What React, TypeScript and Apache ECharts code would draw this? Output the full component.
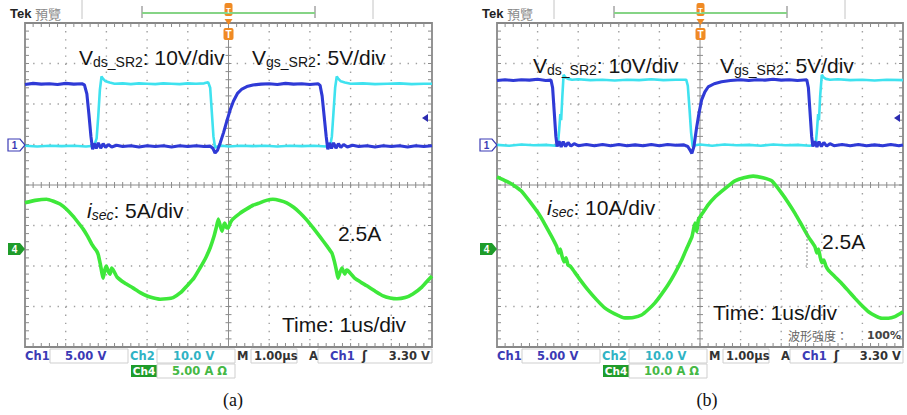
import React, { useEffect, useRef } from "react";
import * as echarts from "echarts";

// ---- data: time in µs (1 µs/div), value in screen divisions (centre line = 0) ----
const vdsA: number[][] = [[0,2.48],[0.2,2.51],[0.4,2.49],[0.6,2.5],[0.8,2.48],[1.0,2.51],[1.2,2.49],[1.4,2.5],[1.46,2.47],[1.52,2.25],[1.57,1.75],[1.62,1.2],[1.66,0.88],[1.7,1.03],[1.75,0.9],[1.8,1.04],[1.86,0.91],[1.92,1.02],[1.98,0.93],[2.05,1.0],[2.13,0.94],[2.25,0.98],[2.4,0.95],[2.6,0.97],[2.8,0.94],[3.0,0.97],[3.2,0.95],[3.4,0.97],[3.6,0.94],[3.8,0.97],[4.0,0.95],[4.2,0.97],[4.4,0.95],[4.55,0.96],[4.62,0.9],[4.67,0.79],[4.73,0.86],[4.8,1.05],[4.88,1.3],[4.96,1.58],[5.04,1.85],[5.12,2.07],[5.22,2.26],[5.33,2.37],[5.45,2.43],[5.6,2.47],[5.8,2.49],[6.0,2.5],[6.2,2.48],[6.4,2.51],[6.6,2.49],[6.8,2.5],[7.0,2.48],[7.2,2.5],[7.25,2.46],[7.3,2.2],[7.35,1.7],[7.4,1.2],[7.44,0.88],[7.48,1.04],[7.53,0.9],[7.58,1.04],[7.64,0.91],[7.7,1.02],[7.76,0.93],[7.83,1.0],[7.92,0.94],[8.05,0.98],[8.2,0.95],[8.4,0.97],[8.6,0.94],[8.8,0.97],[9.0,0.95],[9.2,0.97],[9.4,0.94],[9.6,0.97],[9.8,0.95],[10,0.97]];
const vgsA: number[][] = [[0,0.97],[0.3,0.95],[0.6,0.97],[0.9,0.96],[1.2,0.97],[1.5,0.95],[1.7,0.97],[1.76,1.15],[1.8,1.7],[1.84,2.35],[1.88,2.68],[1.92,2.62],[1.98,2.56],[2.08,2.53],[2.2,2.5],[2.4,2.51],[2.6,2.49],[2.8,2.51],[3.0,2.5],[3.2,2.49],[3.4,2.51],[3.6,2.5],[3.8,2.49],[4.0,2.51],[4.2,2.5],[4.4,2.51],[4.5,2.54],[4.55,2.4],[4.59,1.8],[4.63,1.2],[4.67,0.92],[4.72,0.95],[4.85,0.97],[5.0,0.95],[5.3,0.97],[5.6,0.96],[5.9,0.97],[6.2,0.95],[6.5,0.97],[6.8,0.96],[7.1,0.97],[7.4,0.95],[7.5,0.98],[7.54,1.2],[7.58,1.8],[7.62,2.4],[7.66,2.68],[7.7,2.62],[7.76,2.56],[7.86,2.53],[8.0,2.5],[8.3,2.51],[8.6,2.49],[8.9,2.5],[9.2,2.51],[9.5,2.49],[9.8,2.5],[10,2.5]];
const isecA: number[][] = [[0,-0.44],[0.25,-0.38],[0.53,-0.35],[0.7,-0.4],[0.86,-0.47],[1.02,-0.6],[1.18,-0.77],[1.3,-0.92],[1.43,-1.09],[1.54,-1.27],[1.64,-1.46],[1.7,-1.55],[1.76,-1.63],[1.8,-1.72],[1.85,-1.95],[1.92,-2.3],[1.96,-2.1],[2.0,-2.0],[2.05,-2.15],[2.09,-2.2],[2.13,-2.05],[2.18,-2.12],[2.26,-2.27],[2.45,-2.42],[2.65,-2.54],[2.82,-2.65],[3.0,-2.74],[3.16,-2.79],[3.32,-2.82],[3.48,-2.81],[3.64,-2.78],[3.82,-2.66],[3.98,-2.49],[4.15,-2.3],[4.3,-2.05],[4.43,-1.82],[4.55,-1.55],[4.64,-1.28],[4.7,-1.05],[4.75,-0.84],[4.8,-1.02],[4.84,-1.14],[4.88,-1.0],[4.91,-0.94],[4.95,-1.05],[4.99,-1.06],[5.05,-0.92],[5.11,-0.84],[5.28,-0.7],[5.45,-0.59],[5.6,-0.5],[5.77,-0.44],[5.93,-0.38],[6.09,-0.35],[6.26,-0.38],[6.43,-0.44],[6.6,-0.55],[6.76,-0.69],[6.92,-0.86],[7.08,-1.06],[7.25,-1.28],[7.42,-1.51],[7.54,-1.68],[7.6,-1.88],[7.65,-2.1],[7.69,-2.3],[7.74,-2.15],[7.79,-2.05],[7.83,-2.15],[7.86,-2.2],[7.9,-2.1],[7.94,-2.12],[8.1,-2.3],[8.25,-2.4],[8.4,-2.49],[8.6,-2.62],[8.8,-2.74],[8.97,-2.79],[9.14,-2.81],[9.34,-2.78],[9.53,-2.69],[9.75,-2.52],[9.95,-2.3],[10,-2.25]];

const vdsB: number[][] = [[0,2.58],[0.2,2.6],[0.4,2.58],[0.6,2.6],[0.8,2.59],[1.0,2.61],[1.2,2.58],[1.33,2.59],[1.37,2.4],[1.41,1.8],[1.45,1.2],[1.48,0.95],[1.53,1.08],[1.58,0.94],[1.63,1.07],[1.69,0.95],[1.75,1.05],[1.82,0.96],[1.9,1.02],[2.0,0.97],[2.2,1.0],[2.4,0.97],[2.6,1.0],[2.8,0.97],[3.0,1.0],[3.2,0.97],[3.4,0.99],[3.6,0.97],[3.8,1.0],[4.0,0.97],[4.2,1.0],[4.4,0.98],[4.6,0.99],[4.7,0.95],[4.76,0.85],[4.8,0.78],[4.85,0.95],[4.92,1.44],[4.98,1.8],[5.04,2.1],[5.12,2.3],[5.2,2.42],[5.35,2.5],[5.53,2.55],[5.75,2.58],[6.0,2.6],[6.2,2.58],[6.4,2.6],[6.6,2.59],[6.8,2.61],[7.0,2.59],[7.2,2.6],[7.4,2.58],[7.63,2.6],[7.67,2.4],[7.71,1.8],[7.75,1.2],[7.78,0.95],[7.83,1.08],[7.88,0.94],[7.93,1.07],[7.99,0.95],[8.05,1.05],[8.12,0.96],[8.2,1.02],[8.3,0.97],[8.5,1.0],[8.7,0.97],[8.9,1.0],[9.1,0.97],[9.3,0.99],[9.5,0.97],[9.7,1.0],[9.9,0.97],[10,0.99]];
const vgsB: number[][] = [[0,0.99],[0.3,0.97],[0.6,1.0],[0.9,0.98],[1.2,0.99],[1.45,0.97],[1.5,1.0],[1.53,1.35],[1.56,1.75],[1.58,1.6],[1.61,2.2],[1.64,2.72],[1.68,2.66],[1.75,2.62],[1.85,2.6],[2.0,2.61],[2.3,2.59],[2.6,2.6],[2.9,2.58],[3.2,2.6],[3.5,2.59],[3.8,2.61],[4.1,2.59],[4.4,2.6],[4.66,2.6],[4.7,2.45],[4.74,1.9],[4.78,1.3],[4.82,0.95],[4.88,0.98],[5.0,1.0],[5.3,0.97],[5.6,1.0],[5.9,0.98],[6.2,0.99],[6.5,0.97],[6.8,1.0],[7.1,0.98],[7.4,0.99],[7.7,0.97],[7.85,1.0],[7.88,1.35],[7.91,1.75],[7.93,1.6],[7.96,2.2],[8.0,2.72],[8.04,2.66],[8.1,2.62],[8.2,2.6],[8.4,2.61],[8.7,2.59],[9.0,2.6],[9.3,2.58],[9.6,2.6],[10,2.59]];
const isecB: number[][] = [[0,0.2],[0.15,0.13],[0.32,0.05],[0.47,-0.05],[0.61,-0.16],[0.8,-0.4],[1.02,-0.7],[1.18,-0.97],[1.35,-1.28],[1.47,-1.52],[1.52,-1.68],[1.56,-1.58],[1.6,-1.75],[1.65,-1.9],[1.7,-1.8],[1.75,-1.98],[1.8,-2.0],[1.84,-2.05],[2.04,-2.33],[2.24,-2.59],[2.45,-2.83],[2.66,-3.04],[2.9,-3.18],[3.15,-3.28],[3.36,-3.27],[3.56,-3.21],[3.72,-3.08],[3.89,-2.91],[4.05,-2.7],[4.21,-2.47],[4.38,-2.18],[4.55,-1.85],[4.68,-1.55],[4.8,-1.28],[4.85,-1.05],[4.88,-0.94],[4.92,-1.15],[4.96,-0.86],[5.08,-0.67],[5.2,-0.49],[5.36,-0.31],[5.53,-0.16],[5.7,-0.02],[5.86,0.1],[6.08,0.18],[6.31,0.22],[6.55,0.18],[6.77,0.1],[7.01,-0.2],[7.17,-0.43],[7.34,-0.7],[7.5,-0.98],[7.67,-1.28],[7.83,-1.52],[7.88,-1.68],[7.92,-1.58],[7.96,-1.78],[8.0,-1.92],[8.05,-1.85],[8.1,-2.0],[8.16,-2.1],[8.33,-2.27],[8.49,-2.43],[8.66,-2.62],[8.82,-2.8],[8.98,-2.97],[9.15,-3.13],[9.32,-3.23],[9.48,-3.29],[9.64,-3.29],[9.8,-3.25],[10,-3.13]];

// ---- texts ----
const ch1Scale = "5.00 V";
const ch2Scale = "10.0 V";
const ch4ScaleA = "5.00 A Ω";
const ch4ScaleB = "10.0 A Ω";
const timeBase = "1.00µs";
const trigLevel = "3.30 V";
const isecLabelA = ": 5A/div";
const isecLabelB = ": 10A/div";
const vdsLabel = ": 10V/div";
const vgsLabel = ": 5V/div";
const peakLabel = "2.5A";
const timeLabel = "Time: 1us/div";
const captions = ["(a)", "(b)"];

const SANS = '"Liberation Sans", Arial, sans-serif';
const STAT = '"DejaVu Sans", Verdana, sans-serif';
const BLUE = "#2f3ad6";
const CYAN = "#3fe2ef";
const GREEN = "#3ee83a";
const CH1C = "#3b3bb5";
const CH2C = "#30b3c4";
const CH4C = "#45b845";
const ORANGE = "#f08a24";

let mctx: CanvasRenderingContext2D | null = null;
function measure(t: string, font: string) {
  if (!mctx) mctx = document.createElement("canvas").getContext("2d");
  mctx!.font = font;
  return mctx!.measureText(t).width;
}

type Part = { t: string; size: number; italic?: boolean; sub?: boolean };
function richText(x: number, yc: number, parts: Part[], fill = "#151515") {
  const out: any[] = [];
  let cx = x;
  for (const p of parts) {
    const st = p.italic ? "italic" : "normal";
    out.push({
      type: "text", x: cx, y: p.sub ? yc + 4.5 : yc, z: 100, silent: true,
      style: { text: p.t, fontSize: p.size, fontFamily: SANS, fontStyle: st, fill, align: "left", verticalAlign: "middle" },
    });
    cx += measure(p.t, `${st} normal ${p.size}px ${SANS}`);
  }
  return out;
}

function txt(x: number, y: number, text: string, o: any = {}) {
  return {
    type: "text", x, y, z: 100, silent: true,
    style: {
      text, fontSize: o.size || 11, fontFamily: o.family || STAT, fontWeight: o.weight || "bold",
      fontStyle: o.italic ? "italic" : "normal",
      fill: o.fill || "#333", align: o.align || "left", verticalAlign: "middle",
    },
  };
}
function ln(x1: number, y1: number, x2: number, y2: number, stroke: string, w = 1, dash?: number[]) {
  return { type: "line", z: 100, silent: true, shape: { x1, y1, x2, y2 }, style: { stroke, lineWidth: w, lineDash: dash } };
}
function rc(x: number, y: number, w: number, h: number, fill: string, stroke?: string, r = 0) {
  return { type: "rect", z: 99, silent: true, shape: { x, y, width: w, height: h, r }, style: { fill, stroke, lineWidth: 1 } };
}
function poly(points: number[][], fill: string, stroke?: string) {
  return { type: "polygon", z: 100, silent: true, shape: { points }, style: { fill, stroke, lineWidth: 1.2 } };
}

function panelDecor(dx: number, right: number, isB: boolean) {
  const els: any[] = [];
  els.push(txt(10 + dx, 13.5, "Tek", { size: 13, family: SANS, fill: "#222" }));
  els.push(txt(35 + dx, 13.5, "預覽", { size: 13, family: '"Noto Sans CJK TC", sans-serif', weight: "normal", fill: "#8a8a8a" }));
  els.push(ln(82 + dx, 0, 82 + dx, 19, "#c4c4c4"));
  els.push(ln(373 + dx, 0, 373 + dx, 19, "#c4c4c4"));
  els.push(ln(142 + dx, 6, 142 + dx, 18, "#777"));
  els.push(ln(315 + dx, 6, 315 + dx, 18, "#777"));
  els.push(ln(142 + dx, 13, 315 + dx, 13, "#86d486", 2));
  const cx = 228.5 + dx;
  els.push(rc(cx - 4, 3, 8, 13, ORANGE, undefined, 2));
  els.push(txt(cx, 10, "T", { size: 8, family: SANS, fill: "#fff", align: "center" }));
  els.push(poly([[cx - 4, 19], [cx + 4, 19], [cx, 25]], ORANGE));
  els.push(rc(cx - 5, 28, 10, 12, ORANGE, undefined, 2));
  els.push(txt(cx, 34.5, "T", { size: 10, family: SANS, fill: "#fff", align: "center" }));
  els.push(poly([[8 + dx, 139], [20 + dx, 139], [25 + dx, 145], [20 + dx, 151], [8 + dx, 151]], "#fff", CH1C));
  els.push(txt(14.5 + dx, 145.5, "1", { size: 10, family: SANS, fill: CH1C, align: "center" }));
  els.push(poly([[8 + dx, 243], [20 + dx, 243], [25 + dx, 249], [20 + dx, 255], [8 + dx, 255]], "#1f9c2a"));
  els.push(txt(14.5 + dx, 249.5, "4", { size: 10, family: SANS, fill: "#fff", align: "center" }));
  els.push(poly([[422 + dx, 118], [428 + dx, 114], [428 + dx, 122]], "#2b2bb0"));
  const y1 = 356;
  els.push(txt(25 + dx, y1, "Ch1", { fill: CH1C, size: 11.5 }));
  els.push(rc(50 + dx, 349, 78, 14, "#fff", "#cfcfcf"));
  els.push(txt(65 + dx, y1, ch1Scale, { fill: CH1C, size: 11.5 }));
  els.push(txt(130 + dx, y1, "Ch2", { fill: CH2C, size: 11.5 }));
  els.push(rc(157 + dx, 349, 78, 14, "#fff", "#cfcfcf"));
  els.push(txt(173 + dx, y1, ch2Scale, { fill: CH2C, size: 11.5 }));
  els.push(txt(237 + dx, y1, "M", { fill: "#333", size: 11.5 }));
  els.push(rc(251 + dx, 349, 46, 14, "#fff", "#cfcfcf"));
  els.push(txt(254 + dx, y1, timeBase, { fill: "#333", size: 11.5 }));
  els.push(txt(309 + dx, y1, "A", { fill: "#333", size: 11.5 }));
  els.push(rc(318 + dx, 349, right - 318 - dx, 14, "#fff", "#cfcfcf"));
  els.push(txt(330 + dx, y1, "Ch1", { fill: CH1C, size: 11.5 }));
  els.push(txt(362 + dx, y1, "ʃ", { fill: "#333", size: 12 }));
  els.push(txt(right - 2, y1, trigLevel, { fill: "#333", align: "right", size: 11.5 }));
  const y2 = 371;
  els.push(rc(131 + dx, 365, 26, 12, "#1f9c2a"));
  els.push(txt(144 + dx, y2, "Ch4", { fill: "#fff", align: "center", size: 10.5 }));
  els.push(rc(157 + dx, 364, 78, 14, "#fff", "#cfcfcf"));
  els.push(txt(172 + dx, y2, isB ? ch4ScaleB : ch4ScaleA, { fill: CH4C, size: 11.5 }));
  return els;
}

function graticule(params: any, api: any) {
  const tl = api.coord([0, 4]);
  const br = api.coord([10, -4]);
  const L = tl[0], T = tl[1], R = br[0], B = br[1];
  const sx = (R - L) / 50, sy = (B - T) / 40;
  const cx = (L + R) / 2, cy = (T + B) / 2;
  const children: any[] = [];
  for (let i = 1; i < 10; i++) {
    if (i === 5) continue;
    const x = L + (i * (R - L)) / 10;
    children.push({ type: "line", shape: { x1: x, y1: T, x2: x, y2: B }, style: { stroke: "#a0a0a0", lineWidth: 1.4, lineDash: [1.4, sy - 1.4] } });
  }
  for (let j = 1; j < 8; j++) {
    if (j === 4) continue;
    const y = T + (j * (B - T)) / 8;
    children.push({ type: "line", shape: { x1: L, y1: y, x2: R, y2: y }, style: { stroke: "#a0a0a0", lineWidth: 1.4, lineDash: [1.4, sx - 1.4] } });
  }
  let d = `M${L} ${cy}H${R}M${cx} ${T}V${B}`;
  for (let k = 1; k < 50; k++) {
    const x = L + k * sx;
    d += `M${x} ${T}v4M${x} ${B}v-4M${x} ${cy - 3}v6`;
  }
  for (let k = 1; k < 40; k++) {
    const y = T + k * sy;
    d += `M${L} ${y}h4M${R} ${y}h-4M${cx - 3} ${y}h6`;
  }
  children.push({ type: "path", shape: { pathData: d }, style: { stroke: "#8c8c8c", lineWidth: 1, fill: null } });
  return { type: "group", children };
}

function traces(idx: number, vds: number[][], vgs: number[][], isec: number[][]) {
  const base = { type: "line", xAxisIndex: idx, yAxisIndex: idx, showSymbol: false, symbol: "none", silent: true, z: 3 };
  return [
    { ...base, name: "Vgs", data: vgs, lineStyle: { color: CYAN, width: 2.6 } },
    { ...base, name: "Vds", data: vds, lineStyle: { color: BLUE, width: 3.1 } },
    { ...base, name: "isec", data: isec, smooth: 0.15, lineStyle: { color: GREEN, width: 3.6 } },
  ];
}

function buildOption() {
  const grids = [
    { left: 25, top: 23, width: 407, height: 324 },
    { left: 497, top: 23, width: 406, height: 324 },
  ];
  const graphics: any[] = [];
  graphics.push(...panelDecor(0, 432, false));
  graphics.push(...panelDecor(472, 903, true));
  graphics.push(...richText(79, 57, [{ t: "V", size: 21 }, { t: "ds_SR2", size: 14, sub: true }, { t: vdsLabel, size: 21 }]));
  graphics.push(...richText(252, 57, [{ t: "V", size: 21 }, { t: "gs_SR2", size: 14, sub: true }, { t: vgsLabel, size: 21 }]));
  graphics.push(...richText(87, 210, [{ t: "i", size: 21, italic: true }, { t: "sec", size: 14, italic: true, sub: true }, { t: isecLabelA, size: 21 }]));
  graphics.push(...richText(338, 233, [{ t: peakLabel, size: 21 }]));
  graphics.push(...richText(282, 324.5, [{ t: timeLabel, size: 21 }]));
  graphics.push(...richText(533, 65, [{ t: "V", size: 21 }, { t: "ds_SR2", size: 14, sub: true }, { t: vdsLabel, size: 21 }]));
  graphics.push(...richText(720, 65, [{ t: "V", size: 21 }, { t: "gs_SR2", size: 14, sub: true }, { t: vgsLabel, size: 21 }]));
  graphics.push(...richText(547, 207, [{ t: "i", size: 21, italic: true }, { t: "sec", size: 14, italic: true, sub: true }, { t: isecLabelB, size: 21 }]));
  graphics.push(...richText(822, 241.5, [{ t: peakLabel, size: 21 }]));
  graphics.push(...richText(713, 312.5, [{ t: timeLabel, size: 21 }]));
  graphics.push(ln(807, 227, 807, 268, "#888", 1, [2, 2]));
  graphics.push(txt(788, 335, "波形強度：", { size: 12, family: '"Noto Sans CJK TC", sans-serif', weight: "normal", fill: "#666" }));
  graphics.push(txt(901, 335, "100%", { size: 11, fill: "#444", align: "right" }));
  graphics.push(txt(233, 400, captions[0], { size: 18, family: '"Liberation Serif", "Times New Roman", serif', weight: "normal", fill: "#111", align: "center" }));
  graphics.push(txt(707, 400, captions[1], { size: 18, family: '"Liberation Serif", "Times New Roman", serif', weight: "normal", fill: "#111", align: "center" }));

  return {
    animation: false,
    backgroundColor: "#fff",
    grid: grids.map((g) => ({ ...g, show: true, borderColor: "#888", borderWidth: 1.8, backgroundColor: "#fff" })),
    xAxis: [0, 1].map((i) => ({ gridIndex: i, type: "value", min: 0, max: 10, interval: 1, show: false })),
    yAxis: [0, 1].map((i) => ({ gridIndex: i, type: "value", min: -4, max: 4, interval: 1, show: false })),
    series: [
      { type: "custom", xAxisIndex: 0, yAxisIndex: 0, data: [[0, 0]], renderItem: graticule, silent: true, z: 1, clip: false },
      { type: "custom", xAxisIndex: 1, yAxisIndex: 1, data: [[0, 0]], renderItem: graticule, silent: true, z: 1, clip: false },
      ...traces(0, vdsA, vgsA, isecA),
      ...traces(1, vdsB, vgsB, isecB),
    ],
    graphic: { elements: graphics },
  };
}

export default function App() {
  const ref = useRef<HTMLDivElement>(null);
  useEffect(() => {
    const chart = echarts.init(ref.current!, null, { renderer: "svg" });
    chart.setOption(buildOption() as any);
    return () => chart.dispose();
  }, []);
  return (
    <div
      ref={ref}
      style={{ position: "fixed", left: 0, top: 0, width: 907, height: 415, background: "#fff" }}
    />
  );
}
